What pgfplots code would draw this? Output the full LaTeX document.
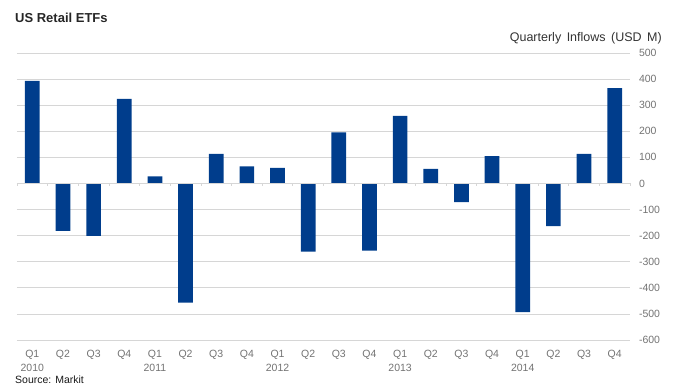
\documentclass[border=0pt]{standalone}
\usepackage{fontspec}
\setmainfont{Liberation Sans}
\usepackage{pgfplots}
\pgfplotsset{compat=1.18}
\definecolor{barblue}{RGB}{0,61,140}
\definecolor{lblgray}{RGB}{115,115,115}
\definecolor{gridgray}{RGB}{214,214,214}
\begin{document}
\begin{tikzpicture}
\path[use as bounding box] (0,0) rectangle (676pt,385pt);
\begin{axis}[
  at={(17pt,45pt)}, anchor=south west,
  scale only axis, width=613pt, height=287pt,
  xmin=-0.5, xmax=19.5, ymin=-600, ymax=500,
  axis line style={draw=none},
  ytick={-600,-500,...,500},
  yticklabels={-600,-500,-400,-300,-200,-100,0,100,200,300,400,500},
  yticklabel pos=right,
  ymajorgrids, grid style={gridgray, line width=0.8pt},
  major tick length=0pt,
  xtick={0,...,19},
  xticklabels={{Q1\\2010},Q2,Q3,Q4,{Q1\\2011},Q2,Q3,Q4,{Q1\\2012},Q2,Q3,Q4,{Q1\\2013},Q2,Q3,Q4,{Q1\\2014},Q2,Q3,Q4},
  ticklabel style={font=\fontsize{10.5}{14}\selectfont, text=lblgray},
  yticklabel style={anchor=west, xshift=5.5pt},
  xticklabel style={align=center, anchor=north, yshift=-7pt},
  clip=false,
]
\addplot[ybar, bar width=14.7pt, fill=barblue, draw=none] coordinates {
 (0,393) (1,-182) (2,-201) (3,324) (4,27) (5,-457) (6,113) (7,65) (8,60) (9,-261)
 (10,196) (11,-257) (12,259) (13,56) (14,-72) (15,105) (16,-493) (17,-164) (18,113) (19,365)
};
\draw[gridgray, line width=0.8pt] (axis cs:-0.5,0) -- (axis cs:19.5,0);
\pgfplotsinvokeforeach{-0.5,0.5,...,19.5}{\draw[gridgray, line width=0.8pt] (axis cs:#1,0) -- ([yshift=-3pt]axis cs:#1,0);}
\end{axis}
\node[anchor=base west, inner sep=0, font=\bfseries\fontsize{13}{15}\selectfont, text=black!85] at (15pt,362.4pt) {US Retail ETFs};
\node[anchor=base east, inner sep=0, font=\fontsize{12.5}{14}\selectfont, text=black!80] at (662pt,343.5pt) {Quarterly\hspace{5.5pt}Inflows\hspace{5.5pt}(USD\hspace{5.5pt}M)};
\node[anchor=base west, inner sep=0, font=\fontsize{10.5}{13}\selectfont, text=black!90] at (15pt,1.5pt) {Source: Markit};
\end{tikzpicture}
\end{document}
